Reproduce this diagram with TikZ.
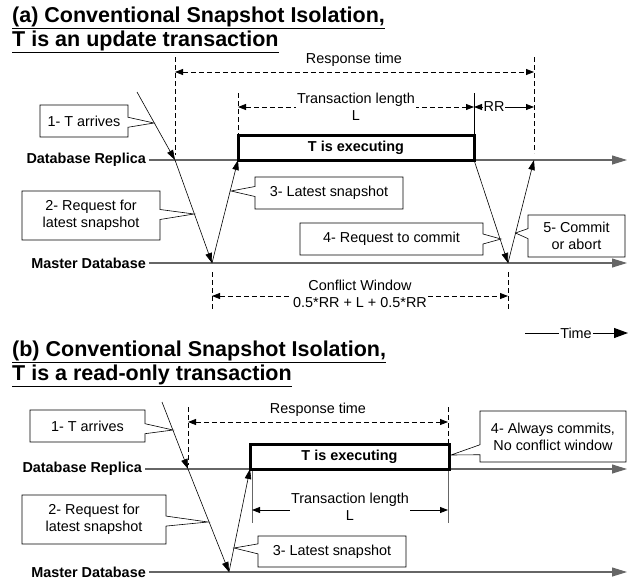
\documentclass[tikz,border=0pt]{standalone}
\usepackage{fontspec}
\setmainfont{Liberation Sans}
\usetikzlibrary{arrows.meta,shapes.callouts}

\tikzset{
  titletext/.style={anchor=base west, inner sep=0pt, font=\fontsize{21.5}{24}\selectfont\bfseries},
  dblabel/.style={anchor=east, inner xsep=3pt, font=\fontsize{14.4}{17}\selectfont\bfseries},
  timeline/.style={draw=black!60, line width=1.1pt, -{Triangle[length=15pt,width=9pt]}},
  msg/.style={line width=0.6pt, -{Triangle[length=10pt,width=6.5pt]}},
  execbox/.style={draw, line width=3pt, inner sep=0pt, font=\fontsize{14.4}{17}\selectfont\bfseries},
  markline/.style={line width=1pt, dash pattern=on 5pt off 3pt},
  edgeline/.style={draw=black!60, line width=0.9pt},
  dimarrow/.style={line width=0.8pt, dash pattern=on 5pt off 3pt,
    {Triangle[length=8pt,width=6pt]}-{Triangle[length=8pt,width=6pt]}},
  solidarrow/.style={line width=0.8pt, {Triangle[length=8pt,width=6pt]}-{Triangle[length=8pt,width=6pt]}},
  dimtext/.style={inner sep=1pt, align=center},
  callbox/.style={rectangle callout, draw, fill=white, line width=0.6pt, inner sep=0pt,
    align=center, callout pointer width=10pt},
}

\begin{document}
\begin{tikzpicture}[x=1pt, y=-1pt, font=\fontsize{14.4}{17}\selectfont]
\useasboundingbox (0,0) rectangle (635,582);

% (a) Update transaction
\node[titletext] (titleA1) at (12,22) {\underline{(a) Conventional Snapshot Isolation,}};
\node[titletext] (titleA2) at (12,46) {\underline{T is an update transaction}};

% Time lines
\node[dblabel] (replicaA) at (149,160) {Database Replica};
\node[dblabel] (masterA) at (149,263) {Master Database};
\coordinate (replicaEndA) at (627,160);
\coordinate (masterEndA) at (627,263);
\draw[timeline] (replicaA.east) -- (replicaEndA);
\draw[timeline] (masterA.east) -- (masterEndA);

% Execution
\node[execbox, minimum width=236pt, minimum height=25pt] (execA) at (356,147.5) {T is executing};

% Messages
\coordinate (startA) at (137,92);
\coordinate (arrA) at (175,160);
\coordinate (reqA) at (212,263);
\coordinate (snapA) at (238,160);
\coordinate (endA) at (474,160);
\coordinate (cmtA) at (508,263);
\coordinate (doneA) at (534,160);
\draw[msg] (startA) -- (arrA);
\draw[msg] (arrA) -- (reqA);
\draw[msg] (reqA) -- (snapA);
\draw[msg] (endA) -- (cmtA);
\draw[msg] (cmtA) -- (doneA);

% Response time
\draw[markline] (175,57) -- (175,155);
\draw[markline] (534,57) -- (534,153);
\draw[dimarrow] (175,72) -- (534,72);
\node[dimtext] (rtA) at (354,60) {Response time};

% Transaction length and RR
\draw[markline] (238,93) -- (238,135);
\draw[line width=0.9pt] (474,93) -- (474,135);
\draw[dimarrow] (238,107) -- (474,107);
\node[dimtext, fill=white] (tlA) at (356,107) {Transaction length\\L};
\draw[solidarrow] (474,107) -- (534,107);
\node[dimtext, fill=white] (rrA) at (494,107) {RR};

% Conflict window
\draw[markline] (212,272) -- (212,311);
\draw[markline] (508,272) -- (508,311);
\draw[dimarrow] (212,296) -- (508,296);
\node[dimtext, fill=white] (cwA) at (360,294) {Conflict Window\\0.5*RR + L + 0.5*RR};

% Callouts
\node[callbox, minimum width=88pt, minimum height=32pt, callout absolute pointer={(154,123)}] (arrivesA) at (84,121) {1- T arrives};
\node[callbox, minimum width=138pt, minimum height=49pt, callout absolute pointer={(194,214)}] (requestA) at (91,215.5) {2- Request for\\latest snapshot};
\node[callbox, minimum width=148pt, minimum height=32pt, callout absolute pointer={(231,191)}] (latestA) at (329,193) {3- Latest snapshot};
\node[callbox, minimum width=183pt, minimum height=32pt, callout absolute pointer={(501,239)}] (commitReqA) at (391.5,239) {4- Request to commit};
\node[callbox, minimum width=97pt, minimum height=42pt, callout absolute pointer={(515.5,233)}] (commitA) at (576.5,236) {5- Commit\\or abort};

% Time legend
\node[dimtext] (timeLbl) at (576,333) {Time};
\draw[line width=1pt] (525,333) -- (timeLbl.west);
\draw[line width=1pt, -{Triangle[length=14pt,width=10pt]}] (timeLbl.east) -- (628,333);

% (b) Read-only transaction
\node[titletext] (titleB1) at (12,356) {\underline{(b) Conventional Snapshot Isolation,}};
\node[titletext] (titleB2) at (12,380) {\underline{T is a read-only transaction}};

% Time lines
\node[dblabel] (replicaB) at (145,469) {Database Replica};
\node[dblabel] (masterB) at (149,572) {Master Database};
\coordinate (replicaEndB) at (627,469);
\coordinate (masterEndB) at (627,572);
\draw[timeline] (replicaB.east) -- (replicaEndB);
\draw[timeline] (masterB.east) -- (masterEndB);

% Execution
\node[execbox, minimum width=199pt, minimum height=25pt] (execB) at (349.5,456.5) {T is executing};

% Messages
\coordinate (startB) at (162,402);
\coordinate (arrB) at (188,469);
\coordinate (reqB) at (229,572);
\coordinate (snapB) at (250,469);
\draw[msg] (startB) -- (arrB);
\draw[msg] (arrB) -- (reqB);
\draw[msg] (reqB) -- (snapB);

% Response time
\draw[markline] (188,407) -- (188,465);
\draw[markline] (448,407) -- (448,444);
\draw[dimarrow] (188,422) -- (448,422);
\node[dimtext] (rtB) at (318,410) {Response time};

% Transaction length
\draw[edgeline] (252,471) -- (252,523);
\draw[edgeline] (448,471) -- (448,523);
\draw[solidarrow] (252,510) -- (448,510);
\node[dimtext, fill=white] (tlB) at (350,507) {Transaction length\\L};

% Callouts
\node[callbox, minimum width=115pt, minimum height=32pt, callout absolute pointer={(173,430)}] (arrivesB) at (87.5,426) {1- T arrives};
\node[callbox, minimum width=144pt, minimum height=49pt, callout absolute pointer={(208,522)}] (requestB) at (94,519.5) {2- Request for\\latest snapshot};
\node[callbox, minimum width=148pt, minimum height=31pt, callout absolute pointer={(234,548)}] (latestB) at (332,551.5) {3- Latest snapshot};
\node[callbox, minimum width=146pt, minimum height=51pt, callout absolute pointer={(451,455)}] (commitB) at (553,436.5) {4- Always commits,\\No conflict window};

\end{tikzpicture}
\end{document}
